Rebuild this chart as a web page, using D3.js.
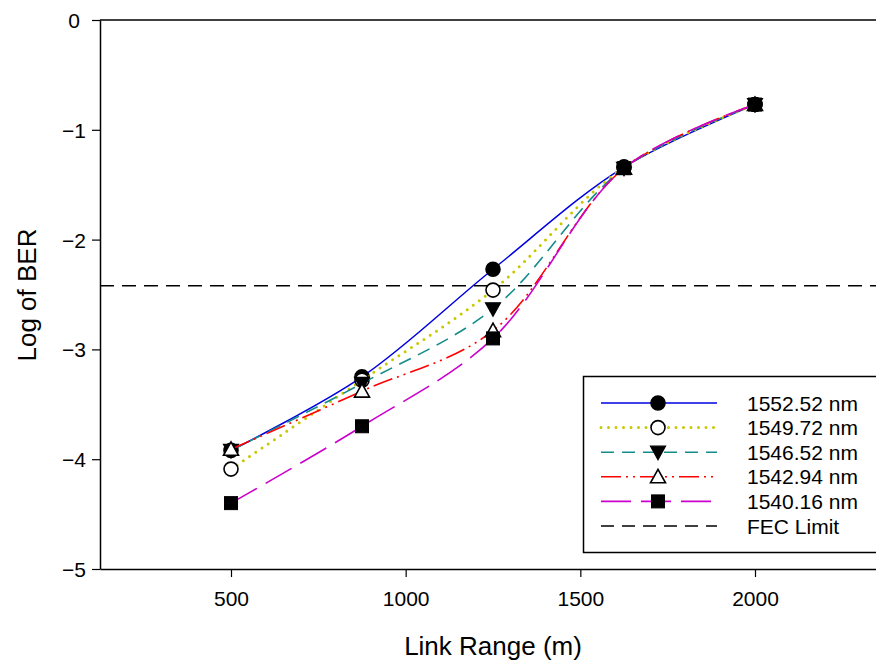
<!DOCTYPE html>
<html><head><meta charset="utf-8">
<script src="https://cdn.jsdelivr.net/npm/d3@7"></script>
<style>body{margin:0;background:#fff}svg{display:block}text{font-family:"Liberation Sans",Arial,sans-serif;fill:#000}</style>
</head><body><svg id="c" width="876" height="662"></svg>
<script>
const linkRange = [500, 875, 1250, 1625, 2000];
const s1552_52 = [-3.92, -3.25, -2.27, -1.34, -0.77];
const s1549_72 = [-4.09, -3.28, -2.46, -1.34, -0.77];
const s1546_52 = [-3.92, -3.31, -2.63, -1.35, -0.77];
const s1542_94 = [-3.91, -3.38, -2.83, -1.35, -0.77];
const s1540_16 = [-4.40, -3.70, -2.90, -1.35, -0.77];
const seriesNames = ["1552.52 nm", "1549.72 nm", "1546.52 nm", "1542.94 nm", "1540.16 nm"];
const fecLimit = -2.42;
const xTicks = [500, 1000, 1500, 2000];
const yTicks = [0, -1, -2, -3, -4, -5];

const seriesData = [s1552_52, s1549_72, s1546_52, s1542_94, s1540_16];
const styles = [
  {color:"#0000e0", dash:null, width:1.5, cap:"butt", sym:"circle", fill:"#000"},
  {color:"#c8c800", dash:"0,7.5", width:3, cap:"round", sym:"circle", fill:"#fff"},
  {color:"#158c8c", dash:"13,8", width:1.6, cap:"butt", sym:"tridown", fill:"#000"},
  {color:"#ff0000", dash:"20,5,2,5,2,5", width:1.6, cap:"butt", sym:"triup", fill:"#fff"},
  {color:"#cc00cc", dash:"30,10", width:1.6, cap:"butt", sym:"square", fill:"#000"}
];

const svg = d3.select("#c");
const x = d3.scaleLinear().domain([125, 2375]).range([100, 886]);
const y = d3.scaleLinear().domain([-5, 0]).range([569, 20]);

// frame
svg.append("line").attr("x1",100).attr("x2",886).attr("y1",20).attr("y2",20).attr("stroke","#000").attr("stroke-width",1.5);

// axes
const xa = svg.append("g").attr("transform","translate(0,569)")
  .call(d3.axisBottom(x).tickValues(xTicks).tickSize(8).tickPadding(14).tickSizeOuter(0).tickFormat(d3.format("d")));
const ya = svg.append("g").attr("transform","translate(100,0)")
  .call(d3.axisLeft(y).tickValues(yTicks).tickSize(8).tickSizeOuter(0).tickFormat(d => d === 0 ? "0" : "\u2212" + Math.abs(d)));
[xa, ya].forEach(g => {
  g.select(".domain").attr("stroke","#000").attr("stroke-width",1.5);
  g.selectAll(".tick line").attr("stroke","#000").attr("stroke-width",1.2);
  g.selectAll(".tick text").attr("font-size",21).attr("font-family","Liberation Sans, Arial, sans-serif").attr("fill","#000");
});
ya.selectAll(".tick text").attr("text-anchor","middle").attr("x",-26).attr("dy","0.36em");

// axis titles
svg.append("text").attr("x",493).attr("y",655).attr("text-anchor","middle").attr("font-size",26).text("Link Range (m)");
svg.append("text").attr("transform","translate(36,295) rotate(-90)").attr("text-anchor","middle").attr("font-size",26).text("Log of BER");

// FEC line
svg.append("line").attr("x1",100).attr("x2",886).attr("y1",y(fecLimit)).attr("y2",y(fecLimit))
  .attr("stroke","#000").attr("stroke-width",1.5).attr("stroke-dasharray","14,8");

function drawSym(g, type, cx, cy, fill){
  if(type==="circle"){
    g.append("circle").attr("cx",cx).attr("cy",cy).attr("r",7).attr("fill",fill).attr("stroke","#000").attr("stroke-width",1.6);
  } else if(type==="square"){
    g.append("rect").attr("x",cx-6.5).attr("y",cy-6.5).attr("width",13).attr("height",13).attr("fill",fill).attr("stroke","#000").attr("stroke-width",1);
  } else if(type==="tridown"){
    const h=7.5;
    g.append("path").attr("d",`M${cx-h},${cy-h*0.8}L${cx+h},${cy-h*0.8}L${cx},${cy+h}Z`).attr("fill",fill).attr("stroke","#000").attr("stroke-width",1.2);
  } else if(type==="triup"){
    const h=7.5;
    g.append("path").attr("d",`M${cx-h},${cy+h*0.8}L${cx+h},${cy+h*0.8}L${cx},${cy-h}Z`).attr("fill",fill).attr("stroke","#000").attr("stroke-width",1.6);
  }
}

const line = d3.line().x(d=>x(d[0])).y(d=>y(d[1])).curve(d3.curveCatmullRom.alpha(0.5));
seriesData.forEach((vals,i)=>{
  const st = styles[i];
  const pts = linkRange.map((v,j)=>[v, vals[j]]);
  const g = svg.append("g");
  g.append("path").attr("d", line(pts)).attr("fill","none").attr("stroke",st.color)
    .attr("stroke-width",st.width).attr("stroke-dasharray",st.dash).attr("stroke-linecap",st.cap);
  pts.forEach(p=>drawSym(g, st.sym, x(p[0]), y(p[1]), st.fill));
});

// legend
const lg = svg.append("g");
lg.append("rect").attr("x",583.5).attr("y",376.5).attr("width",320).attr("height",176).attr("fill","#fff").attr("stroke","#000").attr("stroke-width",1.5);
const legendItems = seriesNames.map((n,i)=>({name:n, st:styles[i]})).concat([{name:"FEC Limit", st:{color:"#000", dash:"13,8", width:1.5, cap:"butt", sym:null}}]);
legendItems.forEach((it,i)=>{
  const cy = 403 + i*24.6;
  lg.append("line").attr("x1",601).attr("x2",717).attr("y1",cy).attr("y2",cy).attr("stroke",it.st.color)
    .attr("stroke-width",it.st.width).attr("stroke-dasharray",it.st.dash).attr("stroke-linecap",it.st.cap);
  if(it.st.sym) drawSym(lg, it.st.sym, 658, cy, it.st.fill);
  lg.append("text").attr("x",747).attr("y",cy).attr("dy","0.36em").attr("font-size",21).text(it.name);
});
</script></body></html>
